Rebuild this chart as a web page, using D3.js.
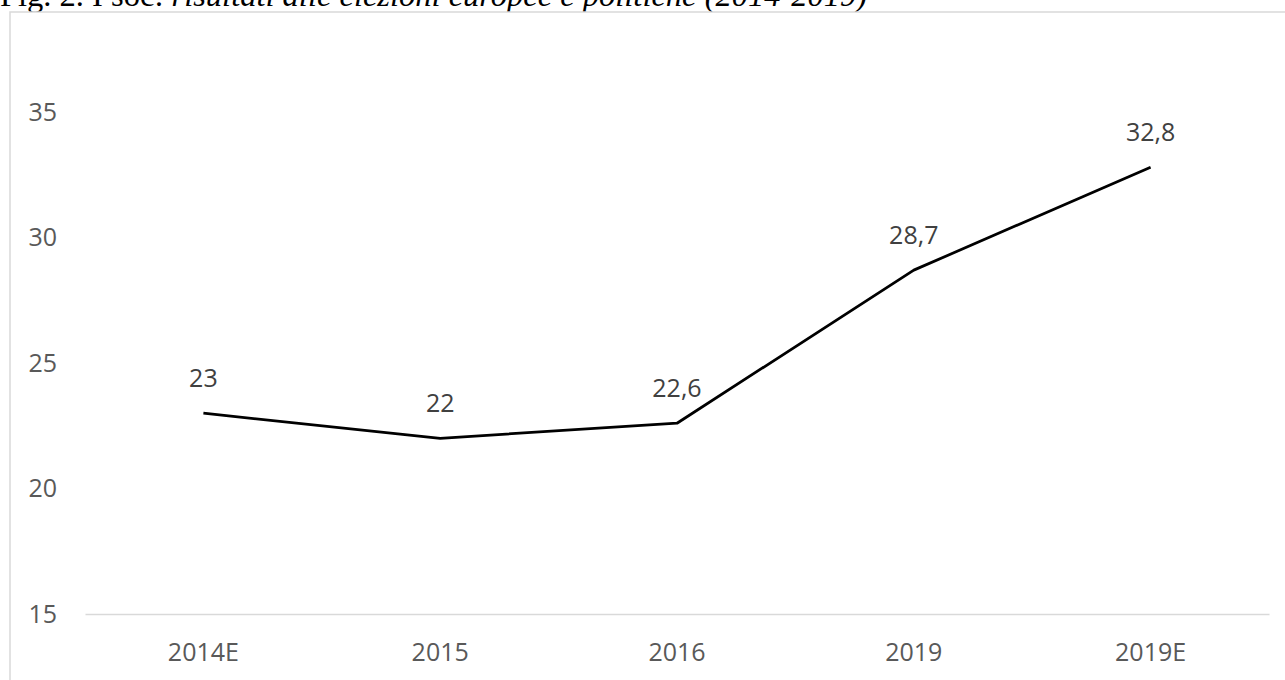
<!DOCTYPE html>
<html>
<head>
<meta charset="utf-8">
<script src="https://cdn.jsdelivr.net/npm/d3@7"></script>
<style>
  html, body { margin: 0; padding: 0; background: #fff; }
  svg { display: block; }
</style>
</head>
<body>
<svg id="chart" width="1285" height="680"></svg>
<script>
const categories = ["2014E", "2015", "2016", "2019", "2019E"];
const values = [23, 22, 22.6, 28.7, 32.8];
const yTicks = [15, 20, 25, 30, 35];
const titlePlain = "Fig. 2. I soc: ";
const titleItalic = "risultati alle elezioni europee e politiche (2014-2019)";

const svg = d3.select("#chart");
const plot = { left: 85, right: 1269, top: 112, bottom: 614 };

// title (cut off at top, as in the source image)
const title = svg.append("text")
  .attr("x", 0).attr("y", 6)
  .attr("font-family", "'Liberation Serif', 'Times New Roman', serif")
  .attr("font-size", 32.5).attr("fill", "#000");
title.append("tspan").text(titlePlain);
title.append("tspan").attr("font-style", "italic").text(titleItalic);

// frame
svg.append("rect")
  .attr("x", 10).attr("y", 12)
  .attr("width", 1300).attr("height", 700)
  .attr("fill", "#fff").attr("stroke", "#d9d9d9").attr("stroke-width", 1.5);

const x = d3.scaleBand().domain(categories).range([plot.left, plot.right]);
const y = d3.scaleLinear().domain([15, 35]).range([plot.bottom, plot.top]);

const font = "'Open Sans', 'Noto Sans', sans-serif";

// y axis labels
const yAxis = d3.axisLeft(y).tickValues(yTicks).tickSize(0).tickPadding(0).tickFormat(d3.format("d"));
const gy = svg.append("g").attr("transform", `translate(57,0)`).call(yAxis);
gy.select(".domain").remove();
gy.selectAll("text").attr("font-family", font).attr("font-size", 25).attr("fill", "#595959");

// x axis
const xAxis = d3.axisBottom(x).tickSize(0).tickPadding(0);
const gx = svg.append("g").attr("transform", `translate(0,${plot.bottom})`).call(xAxis);
gx.select(".domain").attr("stroke", "#d9d9d9").attr("stroke-width", 1.5);
gx.selectAll("text").attr("font-family", font).attr("font-size", 25).attr("fill", "#595959")
  .attr("dy", 0).attr("y", 47);

// line
const cx = d => x(d) + x.bandwidth() / 2;
const line = d3.line().x((d, i) => cx(categories[i])).y(d => y(d));
svg.append("path").datum(values)
  .attr("d", line).attr("fill", "none").attr("stroke", "#000")
  .attr("stroke-width", 2.75).attr("stroke-linejoin", "round");

// data labels
const fmt = v => String(v).replace(".", ",");
svg.selectAll(".lbl").data(values).enter().append("text")
  .attr("class", "lbl")
  .attr("x", (d, i) => cx(categories[i]))
  .attr("y", d => y(d) - 26)
  .attr("text-anchor", "middle")
  .attr("font-family", font).attr("font-size", 25).attr("fill", "#404040")
  .text(fmt);
</script>
</body>
</html>
